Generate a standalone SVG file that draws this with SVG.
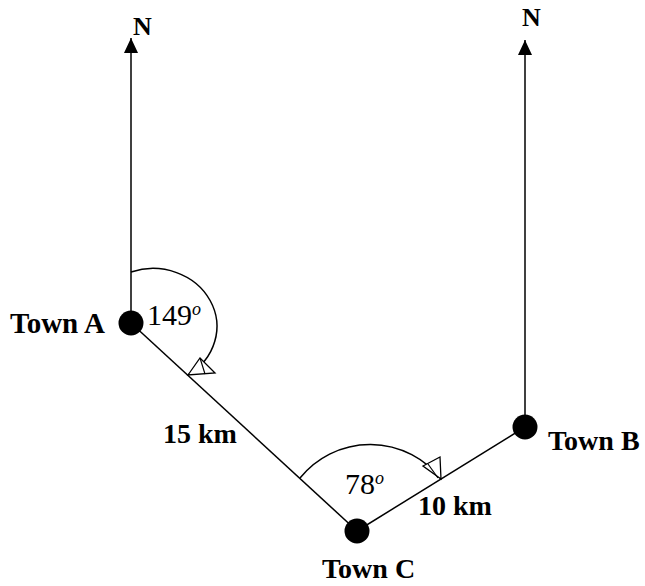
<svg xmlns="http://www.w3.org/2000/svg" width="645" height="586" viewBox="0 0 645 586">
<style>
.ln{stroke:#000;stroke-width:1.5;fill:none}
.dot{fill:#000}
.lbl{font-family:"Liberation Serif","Times New Roman",serif;font-weight:bold;font-size:28px;fill:#000}
.ang{font-family:"Liberation Serif","Times New Roman",serif;font-size:30px;fill:#000}
.deg{font-family:"Liberation Serif","Times New Roman",serif;font-style:italic;font-size:18px;fill:#000}
.hd{fill:#fff;stroke:#000;stroke-width:1.3}
</style>
<defs>
<marker id="ar" viewBox="0 0 16 16" refX="15" refY="8" markerWidth="16" markerHeight="16" markerUnits="userSpaceOnUse" orient="auto">
<path d="M0,1 L15,8 L0,15 Z" fill="#000"/>
</marker>
</defs>
<g id="connectors">
<line class="ln" x1="131" y1="323" x2="131" y2="38" marker-end="url(#ar)"/>
<line class="ln" x1="525" y1="427" x2="525" y2="40" marker-end="url(#ar)"/>
<line class="ln" x1="131" y1="323" x2="357" y2="531"/>
<line class="ln" x1="357" y1="531" x2="525" y2="427"/>
<path class="ln" d="M131,272 A64,58 0 0 1 188,375"/>
<polygon class="hd" points="188,375 200,358 215,373"/>
<line class="ln" x1="200" y1="358" x2="205" y2="374" style="stroke-width:1.2"/>
<path class="ln" d="M300,478 A90,90 0 0 1 441,479"/>
<polygon class="hd" points="441,479 423,466 440,457"/>
<line class="ln" x1="428" y1="464" x2="438" y2="478" style="stroke-width:1.2"/>
</g>
<g id="north-A"><text class="lbl" x="133" y="35" style="font-size:26px">N</text></g>
<g id="north-B"><text class="lbl" x="522" y="26" style="font-size:26px">N</text></g>
<g id="town-A">
<circle class="dot" cx="131" cy="323" r="12.5"/>
<text class="lbl" x="10" y="333" style="font-size:29px">Town A</text>
</g>
<g id="town-B">
<circle class="dot" cx="525" cy="427" r="12.5"/>
<text class="lbl" x="548" y="450">Town B</text>
</g>
<g id="town-C">
<circle class="dot" cx="357" cy="531" r="12.5"/>
<text class="lbl" x="322" y="578">Town C</text>
</g>
<g id="angle-A"><text class="ang" x="147" y="325">149<tspan class="deg" dy="-10">o</tspan></text></g>
<g id="angle-C"><text class="ang" x="345" y="494">78<tspan class="deg" dy="-10">o</tspan></text></g>
<g id="dist-AC"><text class="lbl" x="163" y="443">15 km</text></g>
<g id="dist-CB"><text class="lbl" x="418" y="515">10 km</text></g>
</svg>
